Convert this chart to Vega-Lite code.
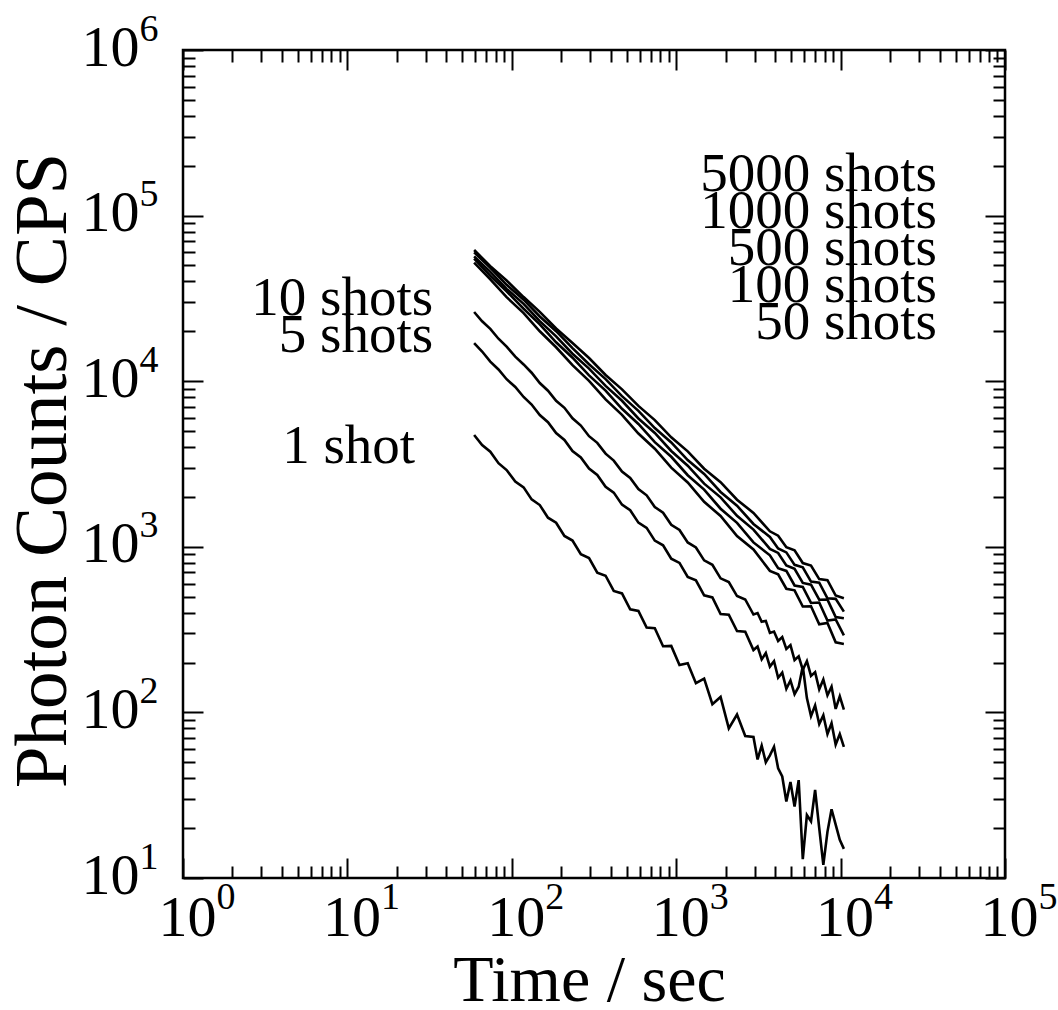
{
"$schema":"https://vega.github.io/schema/vega-lite/v6.json",
"width":822,"height":828,
"autosize":"none",
"padding":{"left":183,"top":50,"right":53,"bottom":132},
"background":"white",
"config":{"view":{"stroke":"black","strokeWidth":2.5},
"axis":{"grid":false,"domain":false,"labelFont":"Liberation Serif","titleFont":"Liberation Serif","labelColor":"black","titleColor":"black","tickColor":"black","titleFontWeight":"normal","labelFlush":false,"labelOverlap":false}},
"datasets":{
"labels":[
{"label":"5000 shots","time":38590,"cps":140800},
{"label":"1000 shots","time":38590,"cps":84160},
{"label":"500 shots","time":38590,"cps":50310},
{"label":"100 shots","time":38590,"cps":30090},
{"label":"50 shots","time":38590,"cps":17980},
{"label":"10 shots","time":33.2,"cps":25110},
{"label":"5 shots","time":33.2,"cps":15010},
{"label":"1 shot","time":25.8,"cps":3206}
],
"curves":[
{"series":"5000 shots","time":59,"cps":62000},{"series":"5000 shots","time":74,"cps":49550},{"series":"5000 shots","time":93,"cps":40550},{"series":"5000 shots","time":118,"cps":32210},{"series":"5000 shots","time":148,"cps":26240},{"series":"5000 shots","time":186,"cps":20820},{"series":"5000 shots","time":234,"cps":17010},{"series":"5000 shots","time":295,"cps":13800},{"series":"5000 shots","time":372,"cps":10910},{"series":"5000 shots","time":468,"cps":8930},{"series":"5000 shots","time":589,"cps":7096},{"series":"5000 shots","time":741,"cps":5823},{"series":"5000 shots","time":933,"cps":4584},{"series":"5000 shots","time":1175,"cps":3770},{"series":"5000 shots","time":1479,"cps":2961},{"series":"5000 shots","time":1862,"cps":2458},{"series":"5000 shots","time":2344,"cps":1925},{"series":"5000 shots","time":2951,"cps":1602},{"series":"5000 shots","time":3715,"cps":1241},{"series":"5000 shots","time":4169,"cps":1167},{"series":"5000 shots","time":4677,"cps":995},{"series":"5000 shots","time":5248,"cps":953},{"series":"5000 shots","time":5888,"cps":798},{"series":"5000 shots","time":6607,"cps":771},{"series":"5000 shots","time":7413,"cps":638},{"series":"5000 shots","time":8318,"cps":628},{"series":"5000 shots","time":9333,"cps":508},{"series":"5000 shots","time":10470,"cps":489},
{"series":"1000 shots","time":59,"cps":60000},{"series":"1000 shots","time":74,"cps":48420},{"series":"1000 shots","time":93,"cps":38190},{"series":"1000 shots","time":118,"cps":31050},{"series":"1000 shots","time":148,"cps":24600},{"series":"1000 shots","time":186,"cps":20040},{"series":"1000 shots","time":234,"cps":15850},{"series":"1000 shots","time":295,"cps":12650},{"series":"1000 shots","time":372,"cps":10300},{"series":"1000 shots","time":468,"cps":8128},{"series":"1000 shots","time":589,"cps":6622},{"series":"1000 shots","time":741,"cps":5212},{"series":"1000 shots","time":933,"cps":4266},{"series":"1000 shots","time":1175,"cps":3342},{"series":"1000 shots","time":1479,"cps":2754},{"series":"1000 shots","time":1862,"cps":2143},{"series":"1000 shots","time":2344,"cps":1770},{"series":"1000 shots","time":2951,"cps":1374},{"series":"1000 shots","time":3715,"cps":1148},{"series":"1000 shots","time":4169,"cps":977},{"series":"1000 shots","time":4677,"cps":925},{"series":"1000 shots","time":5248,"cps":778},{"series":"1000 shots","time":5888,"cps":752},{"series":"1000 shots","time":6607,"cps":617},{"series":"1000 shots","time":7413,"cps":608},{"series":"1000 shots","time":8318,"cps":489},{"series":"1000 shots","time":9333,"cps":485},{"series":"1000 shots","time":10470,"cps":406},
{"series":"500 shots","time":59,"cps":56750},{"series":"500 shots","time":74,"cps":45740},{"series":"500 shots","time":93,"cps":36110},{"series":"500 shots","time":118,"cps":29300},{"series":"500 shots","time":148,"cps":23070},{"series":"500 shots","time":186,"cps":18640},{"series":"500 shots","time":234,"cps":14650},{"series":"500 shots","time":295,"cps":11920},{"series":"500 shots","time":372,"cps":9363},{"series":"500 shots","time":468,"cps":7615},{"series":"500 shots","time":589,"cps":5957},{"series":"500 shots","time":741,"cps":4868},{"series":"500 shots","time":933,"cps":3790},{"series":"500 shots","time":1175,"cps":3090},{"series":"500 shots","time":1479,"cps":2406},{"series":"500 shots","time":1862,"cps":1989},{"series":"500 shots","time":2344,"cps":1538},{"series":"500 shots","time":2951,"cps":1271},{"series":"500 shots","time":3715,"cps":971},{"series":"500 shots","time":4169,"cps":918},{"series":"500 shots","time":4677,"cps":772},{"series":"500 shots","time":5248,"cps":736},{"series":"500 shots","time":5888,"cps":605},{"series":"500 shots","time":6607,"cps":590},{"series":"500 shots","time":7413,"cps":479},{"series":"500 shots","time":8318,"cps":480},{"series":"500 shots","time":9333,"cps":377},{"series":"500 shots","time":10470,"cps":370},
{"series":"100 shots","time":59,"cps":55000},{"series":"100 shots","time":74,"cps":43330},{"series":"100 shots","time":93,"cps":34880},{"series":"100 shots","time":118,"cps":27380},{"series":"100 shots","time":148,"cps":22040},{"series":"100 shots","time":186,"cps":17180},{"series":"100 shots","time":234,"cps":13860},{"series":"100 shots","time":295,"cps":10850},{"series":"100 shots","time":372,"cps":8777},{"series":"100 shots","time":468,"cps":6811},{"series":"100 shots","time":589,"cps":5521},{"series":"100 shots","time":741,"cps":4284},{"series":"100 shots","time":933,"cps":3497},{"series":"100 shots","time":1175,"cps":2706},{"series":"100 shots","time":1479,"cps":2214},{"series":"100 shots","time":1862,"cps":1698},{"series":"100 shots","time":2344,"cps":1396},{"series":"100 shots","time":2951,"cps":1063},{"series":"100 shots","time":3715,"cps":888},{"series":"100 shots","time":4169,"cps":743},{"series":"100 shots","time":4677,"cps":715},{"series":"100 shots","time":5248,"cps":584},{"series":"100 shots","time":5888,"cps":573},{"series":"100 shots","time":6607,"cps":458},{"series":"100 shots","time":7413,"cps":461},{"series":"100 shots","time":8318,"cps":359},{"series":"100 shots","time":9333,"cps":364},{"series":"100 shots","time":10470,"cps":292},
{"series":"50 shots","time":59,"cps":52000},{"series":"50 shots","time":74,"cps":41250},{"series":"50 shots","time":93,"cps":32190},{"series":"50 shots","time":118,"cps":25780},{"series":"50 shots","time":148,"cps":20030},{"series":"50 shots","time":186,"cps":16030},{"series":"50 shots","time":234,"cps":12490},{"series":"50 shots","time":295,"cps":10040},{"series":"50 shots","time":372,"cps":7766},{"series":"50 shots","time":468,"cps":6261},{"series":"50 shots","time":589,"cps":4831},{"series":"50 shots","time":741,"cps":3912},{"series":"50 shots","time":933,"cps":3005},{"series":"50 shots","time":1175,"cps":2445},{"series":"50 shots","time":1479,"cps":1869},{"series":"50 shots","time":1862,"cps":1535},{"series":"50 shots","time":2344,"cps":1160},{"series":"50 shots","time":2951,"cps":963},{"series":"50 shots","time":3715,"cps":716},{"series":"50 shots","time":4169,"cps":682},{"series":"50 shots","time":4677,"cps":558},{"series":"50 shots","time":5248,"cps":546},{"series":"50 shots","time":5888,"cps":436},{"series":"50 shots","time":6607,"cps":437},{"series":"50 shots","time":7413,"cps":340},{"series":"50 shots","time":8318,"cps":347},{"series":"50 shots","time":9333,"cps":265},{"series":"50 shots","time":10470,"cps":259},
{"series":"10 shots","time":59,"cps":26180},{"series":"10 shots","time":66,"cps":23010},{"series":"10 shots","time":74,"cps":20690},{"series":"10 shots","time":83,"cps":18050},{"series":"10 shots","time":93,"cps":16160},{"series":"10 shots","time":105,"cps":14070},{"series":"10 shots","time":118,"cps":12620},{"series":"10 shots","time":132,"cps":11250},{"series":"10 shots","time":148,"cps":9746},{"series":"10 shots","time":166,"cps":8764},{"series":"10 shots","time":186,"cps":7612},{"series":"10 shots","time":209,"cps":6909},{"series":"10 shots","time":234,"cps":5972},{"series":"10 shots","time":263,"cps":5396},{"series":"10 shots","time":295,"cps":4655},{"series":"10 shots","time":331,"cps":4244},{"series":"10 shots","time":372,"cps":3652},{"series":"10 shots","time":417,"cps":3315},{"series":"10 shots","time":468,"cps":2847},{"series":"10 shots","time":525,"cps":2608},{"series":"10 shots","time":589,"cps":2234},{"series":"10 shots","time":661,"cps":2046},{"series":"10 shots","time":741,"cps":1740},{"series":"10 shots","time":832,"cps":1606},{"series":"10 shots","time":933,"cps":1359},{"series":"10 shots","time":1047,"cps":1263},{"series":"10 shots","time":1175,"cps":1062},{"series":"10 shots","time":1318,"cps":991},{"series":"10 shots","time":1479,"cps":828},{"series":"10 shots","time":1660,"cps":779},{"series":"10 shots","time":1862,"cps":645},{"series":"10 shots","time":2089,"cps":612},{"series":"10 shots","time":2344,"cps":504},{"series":"10 shots","time":2630,"cps":481},{"series":"10 shots","time":2951,"cps":390},{"series":"10 shots","time":3126,"cps":398},{"series":"10 shots","time":3311,"cps":353},{"series":"10 shots","time":3508,"cps":357},{"series":"10 shots","time":3715,"cps":302},{"series":"10 shots","time":3936,"cps":308},{"series":"10 shots","time":4169,"cps":270},{"series":"10 shots","time":4416,"cps":285},{"series":"10 shots","time":4677,"cps":242},{"series":"10 shots","time":4955,"cps":255},{"series":"10 shots","time":5248,"cps":207},{"series":"10 shots","time":5559,"cps":218},{"series":"10 shots","time":5888,"cps":181},{"series":"10 shots","time":6237,"cps":204},{"series":"10 shots","time":6607,"cps":166},{"series":"10 shots","time":6998,"cps":175},{"series":"10 shots","time":7413,"cps":138},{"series":"10 shots","time":7852,"cps":158},{"series":"10 shots","time":8318,"cps":127},{"series":"10 shots","time":8810,"cps":143},{"series":"10 shots","time":9333,"cps":105},{"series":"10 shots","time":9886,"cps":125},{"series":"10 shots","time":10470,"cps":104},
{"series":"5 shots","time":59,"cps":16980},{"series":"5 shots","time":66,"cps":15110},{"series":"5 shots","time":74,"cps":13140},{"series":"5 shots","time":83,"cps":11770},{"series":"5 shots","time":93,"cps":10280},{"series":"5 shots","time":105,"cps":9237},{"series":"5 shots","time":118,"cps":8031},{"series":"5 shots","time":132,"cps":7230},{"series":"5 shots","time":148,"cps":6242},{"series":"5 shots","time":166,"cps":5657},{"series":"5 shots","time":186,"cps":4864},{"series":"5 shots","time":209,"cps":4419},{"series":"5 shots","time":234,"cps":3790},{"series":"5 shots","time":263,"cps":3467},{"series":"5 shots","time":295,"cps":2966},{"series":"5 shots","time":331,"cps":2713},{"series":"5 shots","time":372,"cps":2306},{"series":"5 shots","time":417,"cps":2124},{"series":"5 shots","time":468,"cps":1797},{"series":"5 shots","time":525,"cps":1662},{"series":"5 shots","time":589,"cps":1400},{"series":"5 shots","time":661,"cps":1301},{"series":"5 shots","time":741,"cps":1090},{"series":"5 shots","time":832,"cps":1021},{"series":"5 shots","time":933,"cps":848},{"series":"5 shots","time":1047,"cps":799},{"series":"5 shots","time":1175,"cps":657},{"series":"5 shots","time":1318,"cps":628},{"series":"5 shots","time":1479,"cps":509},{"series":"5 shots","time":1660,"cps":495},{"series":"5 shots","time":1862,"cps":393},{"series":"5 shots","time":2089,"cps":389},{"series":"5 shots","time":2344,"cps":310},{"series":"5 shots","time":2630,"cps":307},{"series":"5 shots","time":2951,"cps":238},{"series":"5 shots","time":3126,"cps":250},{"series":"5 shots","time":3311,"cps":209},{"series":"5 shots","time":3508,"cps":228},{"series":"5 shots","time":3715,"cps":189},{"series":"5 shots","time":3936,"cps":204},{"series":"5 shots","time":4169,"cps":162},{"series":"5 shots","time":4416,"cps":174},{"series":"5 shots","time":4677,"cps":139},{"series":"5 shots","time":4955,"cps":156},{"series":"5 shots","time":5248,"cps":129},{"series":"5 shots","time":5559,"cps":143},{"series":"5 shots","time":5888,"cps":190},{"series":"5 shots","time":6237,"cps":122},{"series":"5 shots","time":6607,"cps":95},{"series":"5 shots","time":6998,"cps":110},{"series":"5 shots","time":7413,"cps":85},{"series":"5 shots","time":7852,"cps":96},{"series":"5 shots","time":8318,"cps":74},{"series":"5 shots","time":8810,"cps":86},{"series":"5 shots","time":9333,"cps":64},{"series":"5 shots","time":9886,"cps":74},{"series":"5 shots","time":10470,"cps":62},
{"series":"1 shot","time":59,"cps":4732},{"series":"1 shot","time":66,"cps":4118},{"series":"1 shot","time":74,"cps":3752},{"series":"1 shot","time":83,"cps":3199},{"series":"1 shot","time":93,"cps":2908},{"series":"1 shot","time":105,"cps":2479},{"series":"1 shot","time":118,"cps":2285},{"series":"1 shot","time":132,"cps":1934},{"series":"1 shot","time":148,"cps":1787},{"series":"1 shot","time":166,"cps":1499},{"series":"1 shot","time":186,"cps":1398},{"series":"1 shot","time":209,"cps":1162},{"series":"1 shot","time":234,"cps":1091},{"series":"1 shot","time":263,"cps":901},{"series":"1 shot","time":295,"cps":855},{"series":"1 shot","time":331,"cps":698},{"series":"1 shot","time":372,"cps":669},{"series":"1 shot","time":417,"cps":541},{"series":"1 shot","time":468,"cps":523},{"series":"1 shot","time":525,"cps":419},{"series":"1 shot","time":589,"cps":410},{"series":"1 shot","time":661,"cps":325},{"series":"1 shot","time":741,"cps":322},{"series":"1 shot","time":832,"cps":251},{"series":"1 shot","time":933,"cps":252},{"series":"1 shot","time":1047,"cps":193},{"series":"1 shot","time":1175,"cps":198},{"series":"1 shot","time":1318,"cps":150},{"series":"1 shot","time":1479,"cps":160},{"series":"1 shot","time":1660,"cps":112},{"series":"1 shot","time":1862,"cps":124},{"series":"1 shot","time":2089,"cps":80},{"series":"1 shot","time":2344,"cps":97},{"series":"1 shot","time":2630,"cps":72},{"series":"1 shot","time":2951,"cps":71},{"series":"1 shot","time":3126,"cps":52},{"series":"1 shot","time":3311,"cps":63},{"series":"1 shot","time":3508,"cps":50},{"series":"1 shot","time":3715,"cps":55},{"series":"1 shot","time":3936,"cps":62},{"series":"1 shot","time":4169,"cps":46},{"series":"1 shot","time":4416,"cps":41},{"series":"1 shot","time":4677,"cps":29},{"series":"1 shot","time":4955,"cps":38},{"series":"1 shot","time":5248,"cps":27},{"series":"1 shot","time":5559,"cps":39},{"series":"1 shot","time":5888,"cps":13},{"series":"1 shot","time":6237,"cps":24},{"series":"1 shot","time":6607,"cps":22},{"series":"1 shot","time":6998,"cps":34},{"series":"1 shot","time":7413,"cps":20},{"series":"1 shot","time":7852,"cps":12},{"series":"1 shot","time":8318,"cps":19},{"series":"1 shot","time":8810,"cps":26},{"series":"1 shot","time":9333,"cps":21},{"series":"1 shot","time":9886,"cps":17},{"series":"1 shot","time":10470,"cps":15}
]},
"data":{"name":"curves"},
"resolve":{"axis":{"x":"independent","y":"independent"}},
"layer":[
{"mark":{"type":"line","color":"black","strokeWidth":2.6,"clip":true},
 "encoding":{
  "x":{"field":"time","type":"quantitative","scale":{"type":"log","domain":[1,100000],"nice":false},
   "axis":{"orient":"bottom","values":[1,10,100,1000,10000,100000],"ticks":false,"labelExpr":"'10'","labelFontSize":58,"labelPadding":57,"labelBaseline":"alphabetic","labelAlign":"center","labelOffset":4,
   "title":"Time / sec","titleFontSize":66,"titleX":406,"titleY":122,"titleBaseline":"alphabetic","titleAlign":"center"}},
  "y":{"field":"cps","type":"quantitative","scale":{"type":"log","domain":[10,1000000],"nice":false},
   "axis":{"orient":"left","values":[10,100,1000,10000,100000,1000000],"ticks":false,"labelExpr":"'10'","labelFontSize":58,"labelPadding":44,"labelBaseline":"alphabetic","labelAlign":"right","labelOffset":15,
   "title":"Photon Counts / CPS","titleFontSize":75,"titleX":-118,"titleY":420,"titleAngle":-90,"titleBaseline":"alphabetic","titleAlign":"center"}},
  "detail":{"field":"series"}}},
{"mark":{"type":"point","opacity":0},
 "encoding":{
  "x":{"field":"time","type":"quantitative","scale":{"type":"log","domain":[1,100000],"nice":false},
   "axis":{"orient":"bottom","values":[1,10,100,1000,10000,100000],"ticks":false,"labelExpr":"'' + round(log(datum.value)/LN10)","labelFontSize":38,"labelPadding":30,"labelBaseline":"alphabetic","labelAlign":"left","labelOffset":33,"title":null}},
  "y":{"field":"cps","type":"quantitative","scale":{"type":"log","domain":[10,1000000],"nice":false},
   "axis":{"orient":"left","values":[10,100,1000,10000,100000,1000000],"ticks":false,"labelExpr":"'' + round(log(datum.value)/LN10)","labelFontSize":38,"labelPadding":44,"labelBaseline":"alphabetic","labelAlign":"left","labelOffset":-10,"title":null}}}},
{"mark":{"type":"point","opacity":0},
 "encoding":{
  "x":{"field":"time","type":"quantitative","scale":{"type":"log","domain":[1,100000],"nice":false},
   "axis":{"orient":"bottom","values":[1,10,100,1000,10000,100000],"labels":false,"tickSize":-20,"tickWidth":2,"title":null}},
  "y":{"field":"cps","type":"quantitative","scale":{"type":"log","domain":[10,1000000],"nice":false},
   "axis":{"orient":"left","values":[10,100,1000,10000,100000,1000000],"labels":false,"tickSize":-20,"tickWidth":2,"title":null}}}},
{"mark":{"type":"point","opacity":0},
 "encoding":{
  "x":{"field":"time","type":"quantitative","scale":{"type":"log","domain":[1,100000],"nice":false},
   "axis":{"orient":"bottom","values":[2,3,4,5,6,7,8,9,20,30,40,50,60,70,80,90,200,300,400,500,600,700,800,900,2000,3000,4000,5000,6000,7000,8000,9000,20000,30000,40000,50000,60000,70000,80000,90000],"labels":false,"tickSize":-12,"tickWidth":2,"title":null}},
  "y":{"field":"cps","type":"quantitative","scale":{"type":"log","domain":[10,1000000],"nice":false},
   "axis":{"orient":"left","values":[20,30,40,50,60,70,80,90,200,300,400,500,600,700,800,900,2000,3000,4000,5000,6000,7000,8000,9000,20000,30000,40000,50000,60000,70000,80000,90000,200000,300000,400000,500000,600000,700000,800000,900000],"labels":false,"tickSize":-12,"tickWidth":2,"title":null}}}},
{"mark":{"type":"point","opacity":0},
 "encoding":{
  "x":{"field":"time","type":"quantitative","scale":{"type":"log","domain":[1,100000],"nice":false},
   "axis":{"orient":"top","values":[1,10,100,1000,10000,100000],"labels":false,"tickSize":-20,"tickWidth":2,"title":null}},
  "y":{"field":"cps","type":"quantitative","scale":{"type":"log","domain":[10,1000000],"nice":false},
   "axis":{"orient":"right","values":[10,100,1000,10000,100000,1000000],"labels":false,"tickSize":-20,"tickWidth":2,"title":null}}}},
{"mark":{"type":"point","opacity":0},
 "encoding":{
  "x":{"field":"time","type":"quantitative","scale":{"type":"log","domain":[1,100000],"nice":false},
   "axis":{"orient":"top","values":[2,3,4,5,6,7,8,9,20,30,40,50,60,70,80,90,200,300,400,500,600,700,800,900,2000,3000,4000,5000,6000,7000,8000,9000,20000,30000,40000,50000,60000,70000,80000,90000],"labels":false,"tickSize":-12,"tickWidth":2,"title":null}},
  "y":{"field":"cps","type":"quantitative","scale":{"type":"log","domain":[10,1000000],"nice":false},
   "axis":{"orient":"right","values":[20,30,40,50,60,70,80,90,200,300,400,500,600,700,800,900,2000,3000,4000,5000,6000,7000,8000,9000,20000,30000,40000,50000,60000,70000,80000,90000,200000,300000,400000,500000,600000,700000,800000,900000],"labels":false,"tickSize":-12,"tickWidth":2,"title":null}}}},
{"data":{"name":"labels"},
 "mark":{"type":"text","font":"Liberation Serif","fontSize":55,"align":"right","baseline":"alphabetic","color":"black"},
 "encoding":{
  "x":{"field":"time","type":"quantitative","scale":{"type":"log","domain":[1,100000],"nice":false},"axis":null},
  "y":{"field":"cps","type":"quantitative","scale":{"type":"log","domain":[10,1000000],"nice":false},"axis":null},
  "text":{"field":"label"}}}
]
}
